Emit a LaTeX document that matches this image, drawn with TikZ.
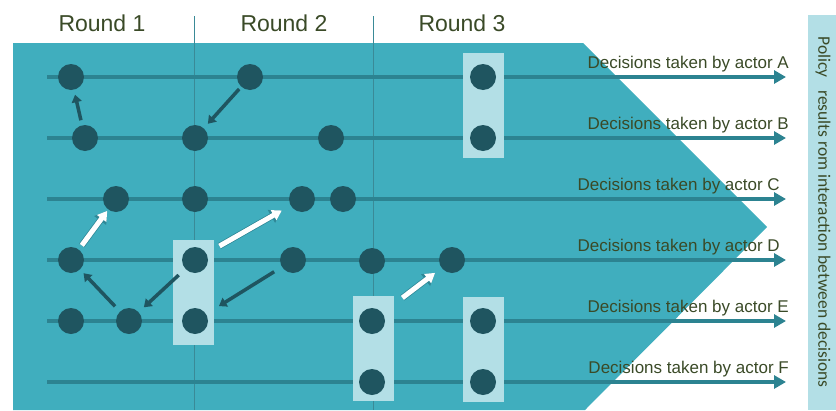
\documentclass[tikz,border=0pt]{standalone}
\usepackage{fontspec}
\setmainfont{Liberation Sans}
\newfontfamily\sidefont{Carlito}
\usetikzlibrary{arrows.meta}
\definecolor{bgteal}{HTML}{40AEBE}
\definecolor{rowc}{HTML}{2C8391}
\definecolor{dotc}{HTML}{1F5560}
\definecolor{boxc}{HTML}{B3DFE6}
\definecolor{txtc}{HTML}{3A4A27}
\definecolor{vlinec}{HTML}{3A8A97}
\definecolor{edgec}{HTML}{2F8796}
\tikzset{
  dot/.style={circle,fill=dotc,inner sep=0pt,minimum size=26pt},
  rowline/.style={draw=rowc,line width=4pt,-{Triangle[length=12pt,width=13pt]}},
  lightbox/.style={fill=boxc,inner sep=0pt,minimum width=41pt,minimum height=105pt},
  darkarrow/.style={draw=dotc,line width=3.5pt,-{Triangle[length=7.5pt,width=10pt]}},
  whitearrow/.style={preaction={draw=edgec,line width=6.5pt,-{Triangle[length=12pt,width=14pt]}},
    draw=white,line width=5pt,shorten >=1.5pt,-{Triangle[length=9.5pt,width=11pt]}},
  roundlabel/.style={text=txtc,font=\fontsize{23}{23}\selectfont},
  actorlabel/.style={text=txtc,font=\fontsize{17}{17}\selectfont,anchor=base east,inner sep=0pt}
}
\begin{document}
\begin{tikzpicture}[x=1pt,y=-1pt]
\useasboundingbox (0,0) rectangle (836,410);
% chevron background
\fill[bgteal] (13,43) -- (583,43) -- (767,227) -- (585,410) -- (13,410) -- cycle;
\foreach \x in {194,373}
   \draw[vlinec,line width=0.8pt] (\x,16) -- (\x,410);
\node[roundlabel] (r1) at (102,23) {Round 1};
\node[roundlabel] (r2) at (284,23) {Round 2};
\node[roundlabel] (r3) at (462,23) {Round 3};
% one line per actor
\foreach \y/\l/\xr in {77/A/789,138/B/789,199/C/780,260/D/780,321/E/789,382/F/789} {
   \coordinate (s\l) at (47,\y);
   \coordinate (t\l) at (786,\y);
   \draw[rowline] (s\l) -- (t\l);
   \node[actorlabel] (lab\l) at (\xr,\y-9) {Decisions taken by actor \l};
}
% joint decisions
\node[lightbox] (boxAB) at (483,105.5) {};
\node[lightbox] (boxDE) at (193.5,292.5) {};
\node[lightbox] (boxEF1) at (373.5,348) {};
\node[lightbox] (boxEF2) at (483,349) {};
% decisions
\node[dot] (a1) at (71,77) {};
\node[dot] (a2) at (250,77) {};
\node[dot] (a3) at (483,77) {};
\node[dot] (b1) at (85,138) {};
\node[dot] (b2) at (195,138) {};
\node[dot] (b3) at (331,138) {};
\node[dot] (b4) at (483,138) {};
\node[dot] (c1) at (116,199) {};
\node[dot] (c2) at (195,199) {};
\node[dot] (c3) at (302,199) {};
\node[dot] (c4) at (343,199) {};
\node[dot] (d1) at (71,260) {};
\node[dot] (d2) at (195,260) {};
\node[dot] (d3) at (293,260) {};
\node[dot] (d4) at (372,261) {};
\node[dot] (d5) at (452,260) {};
\node[dot] (e1) at (71,321) {};
\node[dot] (e2) at (129,321) {};
\node[dot] (e3) at (195,321) {};
\node[dot] (e4) at (372,321) {};
\node[dot] (e5) at (483,321) {};
\node[dot] (f1) at (372,382) {};
\node[dot] (f2) at (483,382) {};
% influences
\draw[darkarrow,shorten <=5pt,shorten >=5pt] (b1) -- (a1);
\draw[darkarrow,shorten <=3pt,shorten >=6pt] (a2) -- (b2);
\draw[darkarrow,shorten <=7pt,shorten >=5pt] (e2) -- (d1);
\draw[darkarrow,shorten <=9pt,shorten >=7pt] (d2) -- (e2);
\draw[darkarrow,shorten <=9pt,shorten >=15pt] (d3) -- (e3);
\draw[whitearrow,shorten <=5pt] (d1) -- (c1);
\draw[whitearrow,shorten <=15pt,shorten >=10pt] (d2) -- (c3);
\draw[whitearrow,shorten <=25pt,shorten >=8pt] (e4) -- (d5);
% outcome
\fill[boxc] (808,15) rectangle (836,410);
\node[rotate=-90,text=txtc,font=\sidefont\fontsize{17.5}{17.5}\selectfont] (policy) at (823,212) {Policy\hspace{0.5em} results rom interaction between decisions};
\end{tikzpicture}
\end{document}
